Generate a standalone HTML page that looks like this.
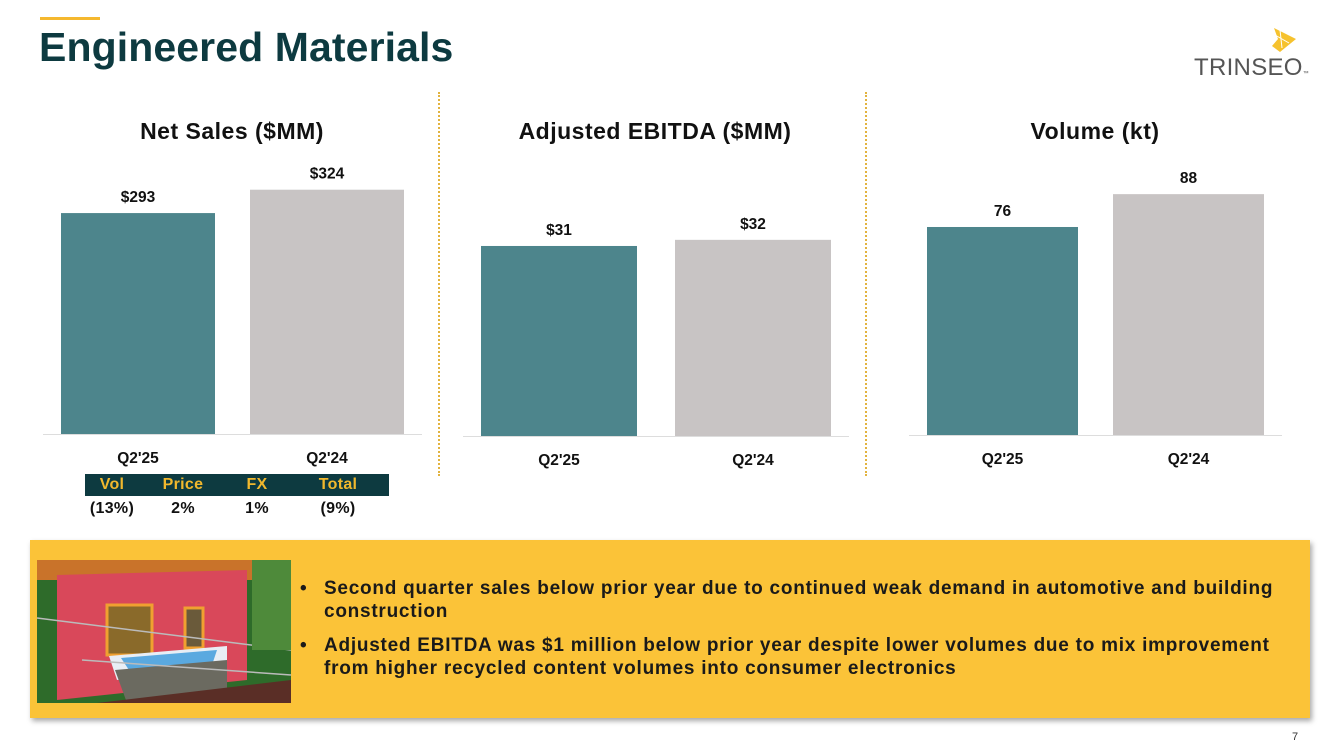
<!DOCTYPE html>
<html><head><meta charset="utf-8">
<style>
body{margin:0;width:1333px;height:749px;background:#fff;font-family:"Liberation Sans",Arial,sans-serif;position:relative;overflow:hidden}
.abs{position:absolute}
#title{left:39px;top:24px;font-size:41px;font-weight:bold;color:#0d3a40;letter-spacing:0.1px}
.ct{font-size:23px;font-weight:bold;color:#111;text-align:center;width:400px;letter-spacing:0.5px}
.vl{border-left:2px dotted #e2b33f;width:0}
#box{left:30px;top:540px;width:1280px;height:178px;background:#fbc338;box-shadow:2px 3px 5px rgba(0,0,0,0.35)}
#bul{left:300px;top:577px;width:990px;font-size:19px;font-weight:bold;color:#1a1a1a;line-height:23px;letter-spacing:0.75px}
#bul div{position:relative;padding-left:24px;margin-bottom:11px}
#bul div span{position:absolute;left:0;top:0}
table{border-collapse:collapse}
</style></head><body>
<div class="abs" style="left:40px;top:17px;width:60px;height:3px;background:#f5b82e"></div>
<div id="title" class="abs">Engineered Materials</div>
<div class="abs" style="left:1192px;top:26px;width:120px;height:56px">
<svg width="120" height="56"><polygon points="82,2 104,13 88,26 80,20 86,13" fill="#f6c22e"/><line x1="83" y1="9" x2="97" y2="17" stroke="#fff" stroke-width="1"/><line x1="88" y1="4" x2="90" y2="22" stroke="#fff" stroke-width="1"/></svg>
<div class="abs" style="left:2px;top:28px;font-size:24px;color:#555;letter-spacing:0.3px">TRINSEO<span style="font-size:6px">™</span></div>
</div>

<div class="abs vl" style="left:438px;top:92px;height:384px"></div>
<div class="abs vl" style="left:865px;top:92px;height:384px"></div>

<div class="abs ct" style="left:32px;top:118px">Net Sales ($MM)</div>
<div class="abs ct" style="left:455px;top:118px">Adjusted EBITDA ($MM)</div>
<div class="abs ct" style="left:895px;top:118px">Volume (kt)</div>

<svg id="charts" class="abs" style="left:0;top:0" width="1333" height="540"></svg>

<div class="abs" style="left:85px;top:474px">
<table style="font-size:16px;font-weight:bold;text-align:center;letter-spacing:0.3px">
<tr style="background:#0d3a40;color:#f1b82d;height:22px"><td style="width:52px">Vol</td><td style="width:86px">Price</td><td style="width:58px">FX</td><td style="width:100px">Total</td></tr>
<tr style="color:#111;height:26px"><td>(13%)</td><td>2%</td><td>1%</td><td>(9%)</td></tr>
</table></div>

<div id="box" class="abs"></div>
<svg class="abs" style="left:37px;top:560px" width="254" height="143">
<rect width="254" height="143" fill="#2e6b2a"/>
<rect x="0" y="0" width="254" height="20" fill="#c9732a"/>
<polygon points="20,15 210,10 210,120 20,140" fill="#d9485a"/>
<rect x="70" y="45" width="45" height="50" fill="#8a6a2a" stroke="#f0a030" stroke-width="3"/>
<rect x="148" y="48" width="18" height="40" fill="#6a5a3a" stroke="#f0a030" stroke-width="3"/>
<polygon points="72,96 190,86 190,105 80,120" fill="#e8eef5"/>
<polygon points="84,98 180,90 176,102 92,110" fill="#5aa9e0"/>
<polygon points="78,110 190,100 190,140 90,143" fill="#6b6a60"/>
<polygon points="60,143 254,120 254,143" fill="#5a2e26"/>
<line x1="0" y1="58" x2="254" y2="90" stroke="#bbb" stroke-width="1.5"/>
<line x1="45" y1="100" x2="254" y2="115" stroke="#bbb" stroke-width="1.5"/>
<rect x="215" y="0" width="39" height="90" fill="#4e8a3a"/>
</svg>
<div id="bul" class="abs">
<div><span>•</span>Second quarter sales below prior year due to continued weak demand in automotive and building construction</div>
<div><span>•</span>Adjusted EBITDA was $1 million below prior year despite lower volumes due to mix improvement from higher recycled content volumes into consumer electronics</div>
</div>
<div class="abs" style="left:1292px;top:731px;font-size:11px;color:#333">7</div>

<script>
const categories = ["Q2'25", "Q2'24"];
const netSales = [293, 324];
const netSalesLabels = ["$293", "$324"];
const ebitda = [31, 32];
const ebitdaLabels = ["$31", "$32"];
const volume = [76, 88];
const volumeLabels = ["76", "88"];

const colors = ["#4d858c", "#c8c4c4"];
const NS = "http://www.w3.org/2000/svg";
const svg = document.getElementById("charts");

function drawChart(name, values, labels, cfg) {
  const yScale = v => cfg.base - v * cfg.ppu;
  const ax = document.createElementNS(NS, "line");
  ax.setAttribute("x1", cfg.ax0); ax.setAttribute("x2", cfg.ax1);
  ax.setAttribute("y1", cfg.base + 0.5); ax.setAttribute("y2", cfg.base + 0.5);
  ax.setAttribute("stroke", "#ddd");
  
  
  svg.appendChild(ax);
  values.forEach((v, i) => {
    const x = cfg.x[i];
    const top = yScale(v);
    const r = document.createElementNS(NS, "rect");
    r.setAttribute("x", x); r.setAttribute("y", top);
    r.setAttribute("width", cfg.w); r.setAttribute("height", cfg.base - top);
    r.setAttribute("fill", colors[i]);
    
    
    svg.appendChild(r);
    const t = document.createElementNS(NS, "text");
    t.setAttribute("x", x + cfg.w / 2); t.setAttribute("y", top - 11);
    t.setAttribute("text-anchor", "middle");
    t.setAttribute("font-size", "15.5"); t.setAttribute("font-weight", "bold");
    t.setAttribute("fill", "#111");
    t.textContent = labels[i];
    
    
    svg.appendChild(t);
    const c = document.createElementNS(NS, "text");
    c.setAttribute("x", x + cfg.w / 2); c.setAttribute("y", cfg.base + 29);
    c.setAttribute("text-anchor", "middle");
    c.setAttribute("font-size", "15.5"); c.setAttribute("font-weight", "bold");
    c.setAttribute("fill", "#111");
    c.textContent = categories[i];
    
    
    svg.appendChild(c);
  });
}
drawChart("net-sales", netSales, netSalesLabels, {base:434, ppu:0.754, x:[61,250], w:154, ax0:43, ax1:422});
drawChart("ebitda", ebitda, ebitdaLabels, {base:436, ppu:6.13, x:[481,675], w:156, ax0:463, ax1:849});
drawChart("volume", volume, volumeLabels, {base:435, ppu:2.737, x:[927,1113], w:151, ax0:909, ax1:1282});
</script>
</body></html>
